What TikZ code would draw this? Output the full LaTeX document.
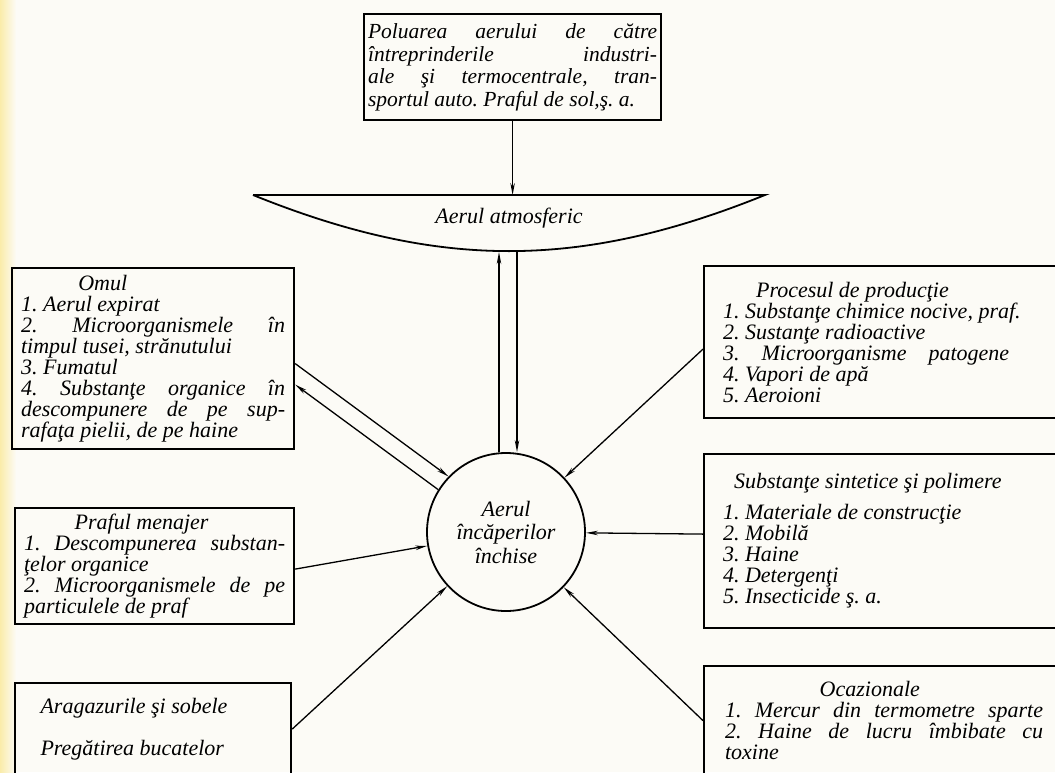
\documentclass[tikz,border=0pt]{standalone}
\usepackage{fontspec}
\setmainfont{Liberation Serif}
\usetikzlibrary{arrows.meta}

\definecolor{paper}{RGB}{252,251,246}
\definecolor{scanyellow}{RGB}{250,236,170}

\begin{document}
\frenchspacing
\begin{tikzpicture}[
  x=1pt, y=-1pt,
  >={Stealth[length=12pt,width=4.5pt]},
  txt/.style={font=\itshape\fontsize{22}{21}\selectfont},
  box/.style={txt, draw, line width=2.2pt, anchor=north west,
    inner sep=0pt, align=justify},
  link/.style={->, line width=1.3pt}
  ]
  \useasboundingbox (0,0) rectangle (1055,772);
  \clip (0,0) rectangle (1055,772);
  \fill[paper] (0,0) rectangle (1055,772);
  \shade[left color=scanyellow, right color=paper] (0,0) rectangle (16,772);

  % sursa exterioara si aerul atmosferic
  \node[box, minimum width=297pt, minimum height=106pt, text width=289pt,
    font=\itshape\fontsize{21.5}{22.5}\selectfont] (poll) at (363,13)
    {Poluarea aerului de către\linebreak întreprinderile industri-\linebreak ale şi termocentrale, tran-\linebreak sportul auto. Praful de sol,ş.~a.};

  \coordinate (bl) at (253,195);
  \coordinate (br) at (765,195);
  \coordinate (bb) at (509,252);
  \draw[line width=1.8pt] (bl) -- (br) to[bend left=22] (bl);
  \node[txt] (atm) at (509,218) {Aerul atmosferic};

  \node[txt, draw, circle, line width=1.8pt, minimum size=158pt, inner sep=0pt,
    align=center, font=\itshape\fontsize{22}{23.5}\selectfont] (aer) at (506,532)
    {Aerul\\încăperilor\\închise};

  % sursele din stanga
  \node[box, minimum width=282pt, minimum height=181pt, text width=264pt] (omul) at (11,267)
    {\hspace*{2.6em}Omul\\
     1. Aerul expirat\\
     2. Microorganismele în\linebreak timpul tusei, strănutului\\
     3. Fumatul\\
     4. Substanţe organice în\linebreak descompunere de pe sup-\linebreak rafaţa pielii, de pe haine};

  \node[box, minimum width=279pt, minimum height=116pt, text width=261pt] (praf) at (14,507)
    {\hspace*{2.3em}Praful menajer\\
     1. Descompunerea substan-\linebreak ţelor organice\\
     2. Microorganismele de pe\linebreak particulele de praf};

  \node[box, minimum width=276pt, minimum height=92pt, text width=256pt] (arag) at (14,682)
    {\hspace*{0.7em}Aragazurile şi sobele\\[21pt]
     \hspace*{0.7em}Pregătirea bucatelor};

  % sursele din dreapta
  \node[box, minimum width=360pt, minimum height=152pt, text width=322pt] (proc) at (703,265)
    {\hspace*{1.5em}Procesul de producţie\\
     1. Substanţe chimice nocive, praf.\\
     2. Sustanţe radioactive\\
     3.\quad Microorganisme\quad patogene\\
     4. Vapori de apă\\
     5. Aeroioni};

  \node[box, minimum width=360pt, minimum height=174pt, text width=322pt] (subst) at (703,453)
    {\hspace*{0.5em}Substanţe sintetice şi polimere\\[10pt]
     1. Materiale de construcţie\\
     2. Mobilă\\
     3. Haine\\
     4. Detergenţi\\
     5. Insecticide ş. a.};

  \node[box, minimum width=360pt, minimum height=109pt, text width=318pt] (ocaz) at (703,665)
    {\hspace*{4.3em}Ocazionale\\
     1. Mercur din termometre sparte\linebreak
     2. Haine de lucru îmbibate cu\linebreak
     toxine};

  % legaturi
  \draw[link] (poll.south) -- (poll.south |- bl);
  \draw[link] ([xshift=-7pt]aer.north) -- ([xshift=-7pt]aer.north |- bb);
  \draw[link] ([xshift=11pt]aer.north |- bb) -- ([xshift=11pt]aer.north);
  \draw[link] ([yshift=-5pt]omul.east) -- (aer.136);
  \draw[link] (aer.148) -- ([yshift=-26pt]omul.east);
  \draw[link] ([yshift=-3pt]praf.east) -- (aer);
  \draw[link] (arag.east) -- (aer);
  \draw[link] ([yshift=-7pt]proc.west) -- (aer);
  \draw[link] ([yshift=7pt]subst.west) -- (aer);
  \draw[link] (ocaz.west) -- (aer);
\end{tikzpicture}
\end{document}
